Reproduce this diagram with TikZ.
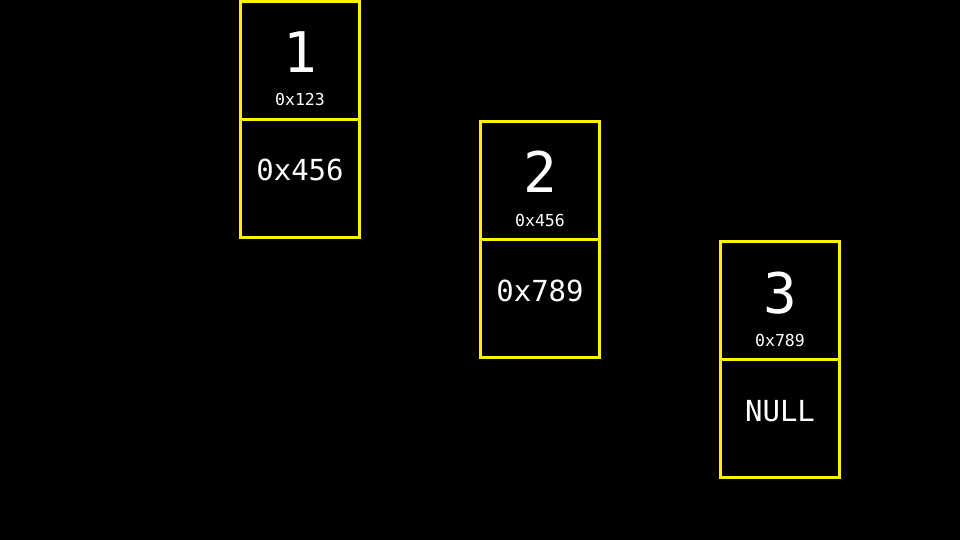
\documentclass[tikz,border=0pt]{standalone}
\usepackage{fontspec}
\setmonofont{DejaVu Sans Mono}
\begin{document}
\begin{tikzpicture}[x=1pt,y=-1pt,
  cell/.style={draw=yellow,line width=3pt,minimum width=119pt,minimum height=118pt,inner sep=0pt,outer sep=0pt},
  bignum/.style={text=white,font=\fontsize{56}{56}\selectfont\ttfamily,anchor=base,inner sep=0pt},
  addr/.style={text=white,font=\fontsize{16.5}{16.5}\selectfont\ttfamily,anchor=base,inner sep=0pt},
  ptr/.style={text=white,font=\fontsize{29}{29}\selectfont\ttfamily,anchor=base,inner sep=0pt}]
\fill[black] (0,0) rectangle (960,540);
\useasboundingbox (0,0) rectangle (960,540);
% node 1
\node[cell] (t1) at (300,60.5) {};
\node[cell] (b1) at (300,178.5) {};
\node[bignum] (n1) at (300,73) {1};
\node[addr] (a1) at (300,106) {0x123};
\node[ptr] (p1) at (300,181) {0x456};
% node 2
\node[cell] (t2) at (540,180.5) {};
\node[cell] (b2) at (540,298.5) {};
\node[bignum] (n2) at (540,193) {2};
\node[addr] (a2) at (540,226) {0x456};
\node[ptr] (p2) at (540,301) {0x789};
% node 3
\node[cell] (t3) at (780,300.5) {};
\node[cell] (b3) at (780,418.5) {};
\node[bignum] (n3) at (780,313) {3};
\node[addr] (a3) at (780,346) {0x789};
\node[ptr] (p3) at (780,421) {NULL};
\end{tikzpicture}
\end{document}
